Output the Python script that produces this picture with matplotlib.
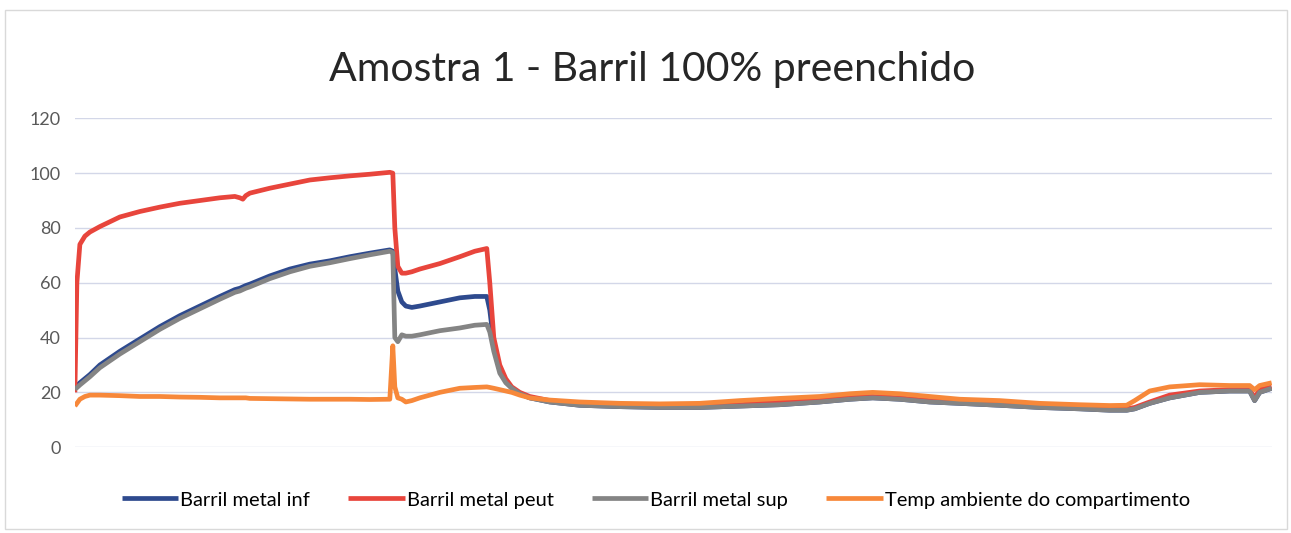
import matplotlib
import matplotlib.pyplot as plt
from matplotlib.patches import Rectangle

matplotlib.use("Agg")

# sample positions (arbitrary time index, no labels on the x axis)
t = [0, 2, 5, 10, 15, 25, 45, 65, 85, 105, 125, 145, 160, 165, 168, 171, 175,
     195, 215, 235, 255, 275, 295, 315, 318, 320, 323, 327, 331, 337, 345, 365,
     385, 400, 412, 415, 419, 425, 431, 437, 445, 455, 475, 505, 545, 585, 625,
     665, 705, 745, 775, 798, 825, 855, 885, 925, 965, 1005, 1035, 1052, 1060,
     1075, 1095, 1125, 1155, 1175, 1180, 1185, 1197]

metal_inf = [22, 22.5, 23.5, 25, 26.5, 30, 35, 39.5, 44, 48, 51.5, 55, 57.5, 58,
             58.5, 59, 59.5, 62.5, 65, 66.8, 68, 69.5, 70.8, 72, 71.5, 65, 57, 53,
             51.5, 51, 51.5, 53, 54.5, 55, 55, 50, 38, 28, 24, 21.5, 19.5, 18, 16.5,
             15.3, 14.8, 14.5, 14.5, 15, 15.5, 16.5, 17.5, 18, 17.5, 16.5, 16, 15.3,
             14.5, 14, 13.5, 13.5, 14, 16, 18, 20, 20.5, 20.5, 17, 20, 21.5]

metal_peut = [20, 60, 74, 77, 78.5, 80.5, 84, 86, 87.6, 89, 90, 91, 91.5, 91, 90.5,
              91.8, 92.7, 94.5, 96, 97.5, 98.3, 99, 99.6, 100.3, 100, 80, 66, 63.5,
              63.5, 64, 65, 67, 69.5, 71.5, 72.5, 60, 40, 30, 25, 22, 20, 18.5, 17,
              16, 15.5, 15, 15, 15.5, 16.5, 17.5, 18.5, 18.5, 18, 17, 16.5, 15.8, 15,
              14.5, 14, 14, 14.5, 16.5, 19, 20.5, 21, 21, 18, 21, 22]

metal_sup = [21.2, 21.7, 22.7, 24.2, 25.7, 29, 34, 38.5, 43, 47, 50.5, 54,
             56.5, 57, 57.5, 58, 58.5, 61.5, 64, 66, 67.3, 68.8, 70.2, 71.5,
             71, 40, 38.5, 41, 40.5, 40.5, 41, 42.5, 43.5, 44.5, 44.8, 42, 35, 27,
             23.5, 21.5, 19.5, 18, 16.5, 15.3, 14.8, 14.5, 14.5, 15, 15.5, 16.5, 17.5,
             18, 17.5, 16.5, 16, 15.3, 14.5, 14, 13.5, 13.5, 14, 16, 18, 20, 20.5,
             20.5, 17, 20, 21.5]

ambiente = [15, 16, 17.5, 18.5, 19, 19, 18.8, 18.5, 18.5, 18.3, 18.2, 18, 18, 18,
            18, 18, 17.8, 17.7, 17.6, 17.5, 17.5, 17.5, 17.4, 17.5, 37, 22, 18,
            17.5, 16.5, 17, 18, 20, 21.5, 21.8, 22, 21.8, 21.5, 21, 20.5, 20, 19,
            18, 17.2, 16.5, 16, 15.8, 16, 17, 17.8, 18.5, 19.5, 20, 19.5, 18.5, 17.5,
            17, 16, 15.5, 15.2, 15.3, 17, 20.5, 22, 22.8, 22.5, 22.5, 21, 22.5, 23.5]

series = [
    ("Barril metal inf", metal_inf, "#2e4a8e"),
    ("Barril metal peut", metal_peut, "#e8453c"),
    ("Barril metal sup", metal_sup, "#848484"),
    ("Temp ambiente do compartimento", ambiente, "#f7883a"),
]

plt.rcParams["font.family"] = ["Lato", "DejaVu Sans"]

fig = plt.figure(figsize=(12.91, 5.33), dpi=100)
ax = fig.add_axes([0.058, 0.161, 0.927, 0.617])

for label, values, color in series:
    ax.plot(t, values, color=color, linewidth=3.4, label=label, solid_capstyle="butt")

ax.set_xlim(0, 1197)
ax.set_ylim(0, 120)
ax.set_yticks(range(0, 121, 20))
ax.tick_params(axis="y", length=0, labelsize=13, labelcolor="#595959", pad=10)
ax.set_xticks([])
ax.grid(axis="y", color="#d3d7e8", linewidth=1)
ax.set_axisbelow(True)
for side in ax.spines.values():
    side.set_visible(False)

fig.text(0.505, 0.87, "Amostra 1 - Barril 100% preenchido", ha="center", va="center",
         fontsize=29.5, color="#262626")

fig.legend(loc="center", bbox_to_anchor=(0.508, 0.062), ncol=4, frameon=False,
           fontsize=14.5, handlelength=2.8, columnspacing=1.9, handletextpad=0.1)

fig.patches.append(Rectangle((0.004, 0.008), 0.993, 0.973, transform=fig.transFigure,
                             fill=False, edgecolor="#d9d9d9", linewidth=1))

fig.savefig("out.png", dpi=100)
